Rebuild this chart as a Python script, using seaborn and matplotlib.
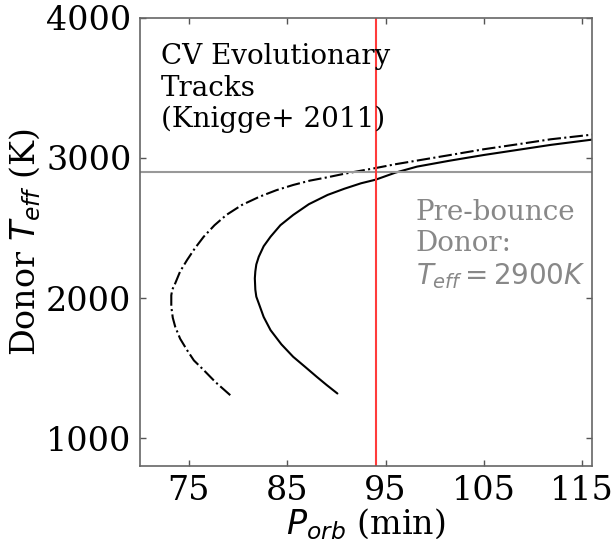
import matplotlib
matplotlib.use("Agg")
import matplotlib.pyplot as plt
import seaborn as sns

# CV evolutionary tracks
solid_P = [90.1, 89.0, 88.0, 86.8, 85.6, 84.4, 83.3, 82.6, 82.1, 81.85, 81.75, 81.7, 81.75, 81.85,
           82.1, 82.6, 83.3, 84.3, 85.6, 87.2, 89.1, 90.8, 92.5, 94.0, 96.0, 98.2, 101.5, 105.0,
           108.5, 111.8, 116.5]
solid_T = [1319, 1380, 1438, 1510, 1581, 1670, 1771, 1865, 1962, 2010, 2060, 2141, 2190, 2240,
           2295, 2370, 2438, 2520, 2593, 2670, 2736, 2780, 2819, 2845, 2895, 2938, 2980, 3021,
           3058, 3093, 3135]

dash_P = [79.2, 77.7, 76.5, 75.5, 74.8, 74.1, 73.6, 73.35, 73.2, 73.2, 73.3, 73.6, 74.1, 74.8,
          75.6, 76.5, 77.6, 78.8, 80.4, 82.2, 83.9, 85.6, 87.3, 89.1, 90.8, 92.5, 94.0, 96.0,
          98.2, 101.5, 105.0, 108.5, 111.8, 116.5]
dash_T = [1307, 1400, 1486, 1555, 1629, 1710, 1795, 1860, 1940, 2020, 2060, 2105, 2190, 2271,
          2355, 2438, 2520, 2593, 2665, 2724, 2770, 2807, 2838, 2862, 2887, 2909, 2928, 2955,
          2981, 3020, 3062, 3098, 3133, 3170]

P_bounce = 94.0
T_donor = 2900

x_ticks = [75, 85, 95, 105, 115]
y_ticks = [1000, 2000, 3000, 4000]

sns.set_style("ticks")
plt.rcParams['font.family'] = ['DejaVu Serif']
plt.rcParams['mathtext.fontset'] = 'dejavusans'
plt.rcParams['text.color'] = 'black'
plt.rcParams['axes.labelcolor'] = 'black'
plt.rcParams['xtick.labelcolor'] = 'black'
plt.rcParams['ytick.labelcolor'] = 'black'

fig = plt.figure(figsize=(6.16, 5.39), dpi=100)
ax = fig.add_axes([0.227, 0.135, 0.734, 0.832])

sns.lineplot(x=solid_P, y=solid_T, sort=False, estimator=None, color='black',
             linewidth=1.5, ax=ax)
sns.lineplot(x=dash_P, y=dash_T, sort=False, estimator=None, color='black',
             linewidth=1.5, linestyle='-.', ax=ax)

ax.axhline(T_donor, color='#999999', linewidth=1.5)
ax.axvline(P_bounce, color='#ff3b3b', linewidth=1.5)

ax.text(0.046, 0.943, "CV Evolutionary\nTracks\n(Knigge+ 2011)", transform=ax.transAxes,
        fontsize=20, va='top', ha='left', color='black')
ax.text(0.61, 0.597, "Pre-bounce\nDonor:\n$T_{eff} = 2900K$", transform=ax.transAxes,
        fontsize=20, va='top', ha='left', color='#888888')

ax.set_xlim(70, 116)
ax.set_ylim(800, 4000)
ax.set_xticks(x_ticks)
ax.set_yticks(y_ticks)
ax.set_xlabel("$P_{orb}$ (min)", fontsize=24, labelpad=0)
ax.set_ylabel("Donor $T_{eff}$ (K)", fontsize=24, labelpad=2)
ax.tick_params(direction='in', length=4, width=1, color='#555555', labelsize=24,
               top=True, right=True, pad=6)
for s in ax.spines.values():
    s.set_color('#666666')
    s.set_linewidth(1.2)

fig.savefig("out.png", dpi=100)
